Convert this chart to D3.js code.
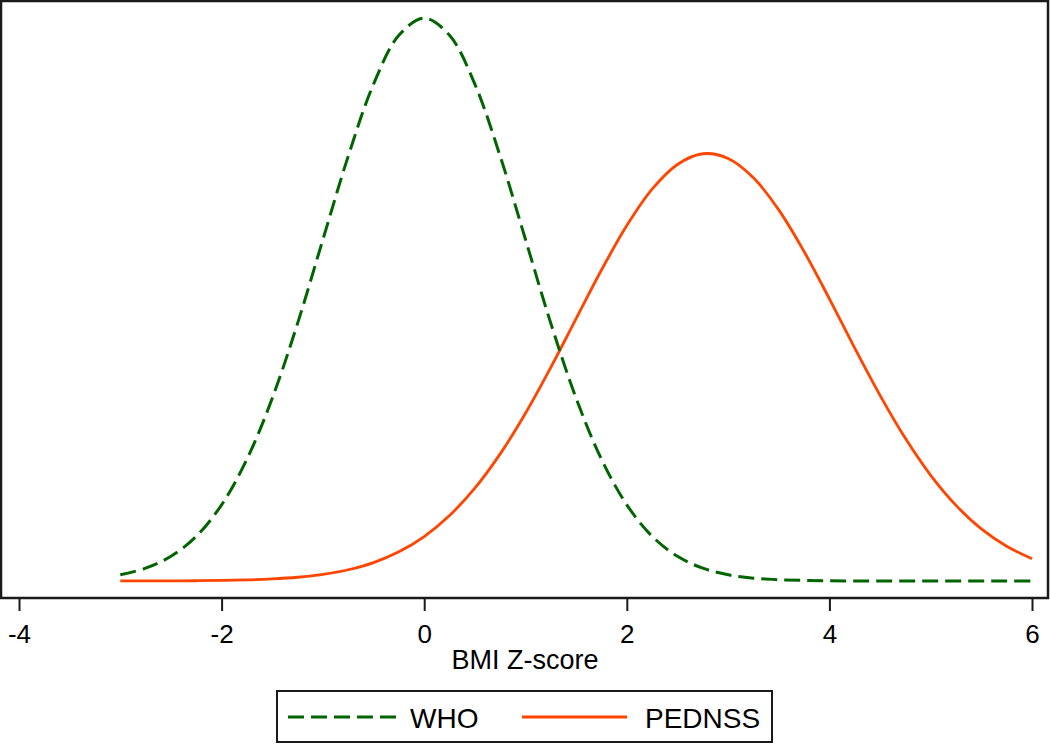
<!DOCTYPE html>
<html>
<head>
<meta charset="utf-8">
<script src="https://cdn.jsdelivr.net/npm/d3@7"></script>
<style>
  body { margin: 0; background: #fff; }
  svg { display: block; }
  text { font-family: Arial, "Liberation Sans", sans-serif; fill: #000; }
</style>
</head>
<body>
<div id="chart"></div>
<script>
// BMI z-score grid (step 0.25)
let zScores = d3.range(-3, 6.001, 0.25);

// density values at each z-score
let whoDensity = [
  0.0044, 0.0091, 0.0175, 0.0317, 0.0540, 0.0863, 0.1295, 0.1826, 0.2420,
  0.3011, 0.3521, 0.3867, 0.3989, 0.3867, 0.3521, 0.3011, 0.2420, 0.1826,
  0.1295, 0.0863, 0.0540, 0.0317, 0.0175, 0.0091, 0.0044, 0.0020, 0.0009,
  0.0004, 0.0001, 0, 0, 0, 0, 0, 0, 0, 0
];
let pednssDensity = [
  0.00002, 0.00004, 0.00009, 0.00019, 0.00039, 0.00077, 0.00146, 0.00266, 0.00469,
  0.00797, 0.01306, 0.02066, 0.0315, 0.0464, 0.0658, 0.0901, 0.1189, 0.1514,
  0.1860, 0.2204, 0.2519, 0.2777, 0.2952, 0.3028, 0.2995, 0.2858, 0.2630,
  0.2335, 0.2000, 0.1651, 0.1316, 0.1011, 0.0749, 0.0536, 0.0369, 0.0246, 0.0158
];

let xTicks = [-4, -2, 0, 2, 4, 6];
let seriesNames = ["WHO", "PEDNSS"];
let seriesColors = ["#006400", "#ff4500"];

let width = 1050, height = 744;
let frame = { left: 1, top: 1, right: 1048, bottom: 598 };

let svg = d3.select("#chart").append("svg")
    .attr("width", width)
    .attr("height", height);

let x = d3.scaleLinear().domain([-4, 6]).range([19, 1032]);
let y = d3.scaleLinear().domain([0, 0.4]).range([581, 16.6]);

// plot frame
svg.append("rect")
    .attr("x", frame.left)
    .attr("y", frame.top)
    .attr("width", frame.right - frame.left)
    .attr("height", frame.bottom - frame.top)
    .attr("fill", "none")
    .attr("stroke", "#1a1a1a")
    .attr("stroke-width", 2.5);

let line = d3.line()
    .x(function (d) { return x(d[0]); })
    .y(function (d) { return y(d[1]); })
    .curve(d3.curveCatmullRom.alpha(0.5));

let whoPoints = zScores.map(function (z, i) { return [z, whoDensity[i]]; });
let pednssPoints = zScores.map(function (z, i) { return [z, pednssDensity[i]]; });

svg.append("path")
    .datum(pednssPoints)
    .attr("d", line)
    .attr("fill", "none")
    .attr("stroke", seriesColors[1])
    .attr("stroke-width", 2.8);

svg.append("path")
    .datum(whoPoints)
    .attr("d", line)
    .attr("fill", "none")
    .attr("stroke", seriesColors[0])
    .attr("stroke-width", 3)
    .attr("stroke-dasharray", "16,7");

// x axis
let xAxis = svg.append("g")
    .attr("transform", "translate(0," + 599 + ")")
    .call(d3.axisBottom(x).tickValues(xTicks).tickSize(12).tickFormat(d3.format("d")));

xAxis.select(".domain").remove();
xAxis.selectAll(".tick line").attr("stroke", "#1a1a1a").attr("stroke-width", 2);
xAxis.selectAll(".tick text")
    .attr("y", 44)
    .attr("dy", 0)
    .style("font-size", "26px")
    .style("font-family", "Arial, 'Liberation Sans', sans-serif")
    .attr("fill", "#000")
    .text(function (d) { return d < 0 ? "-" + Math.abs(d) : d; });

svg.append("text")
    .attr("x", 525)
    .attr("y", 669)
    .attr("text-anchor", "middle")
    .style("font-size", "27px")
    .text("BMI Z-score");

// legend
let legend = svg.append("g");
legend.append("rect")
    .attr("x", 277)
    .attr("y", 691)
    .attr("width", 495)
    .attr("height", 51)
    .attr("fill", "#fff")
    .attr("stroke", "#1a1a1a")
    .attr("stroke-width", 2);

let legendItems = [
  { x1: 288, x2: 396, tx: 410, dash: "16,7" },
  { x1: 522, x2: 627, tx: 645, dash: null }
];

legendItems.forEach(function (d, i) {
    legend.append("line")
        .attr("x1", d.x1)
        .attr("x2", d.x2)
        .attr("y1", 717)
        .attr("y2", 717)
        .attr("stroke", seriesColors[i])
        .attr("stroke-width", 3)
        .attr("stroke-dasharray", d.dash);
    legend.append("text")
        .attr("x", d.tx)
        .attr("y", 728)
        .style("font-size", "28px")
        .text(seriesNames[i]);
});
</script>
</body>
</html>
